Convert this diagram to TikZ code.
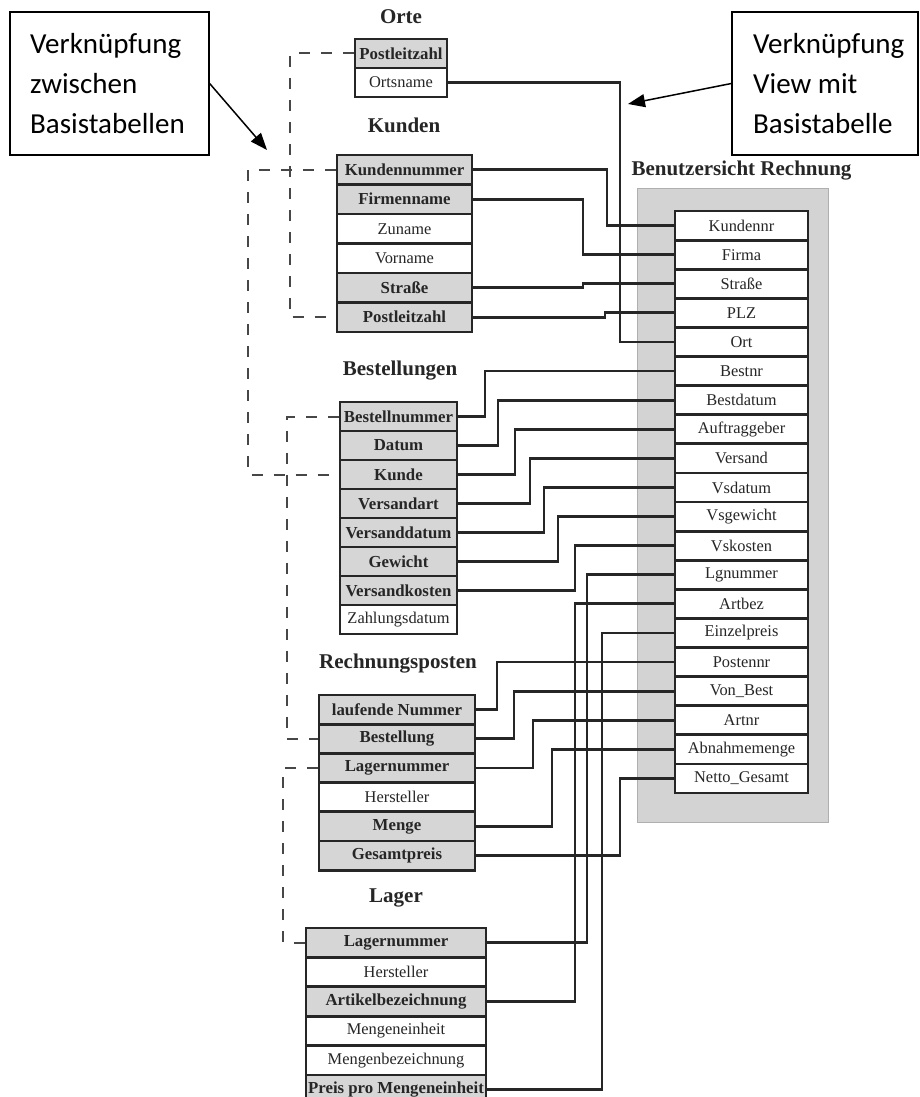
\documentclass[tikz,border=0pt]{standalone}
\usepackage{fontspec}
\setmainfont{Liberation Serif}
\newfontfamily\calloutfont{Carlito}
\usetikzlibrary{arrows.meta}
\definecolor{ink}{HTML}{262626}
\definecolor{keygray}{HTML}{D6D6D6}
\definecolor{viewgray}{HTML}{D3D3D3}
\definecolor{viewedge}{HTML}{AFAFAF}
\definecolor{dashgray}{HTML}{474747}

\begin{document}
\begin{tikzpicture}[x=1pt,y=-1pt,
  cell/.style={draw=ink, line width=2.8pt, inner sep=0pt, text=ink,
    font=\fontsize{16.4}{19}\selectfont},
  keycell/.style={cell, fill=keygray, font=\fontsize{16.8}{19}\selectfont\bfseries},
  plaincell/.style={cell, fill=white},
  orte/.style={minimum width=92pt, minimum height=29pt},
  kunden/.style={minimum width=135pt, minimum height=29.5pt},
  bestell/.style={minimum width=117pt, minimum height=29pt},
  posten/.style={minimum width=156pt, minimum height=29.2pt},
  lager/.style={minimum width=180pt, minimum height=29.4pt},
  viewcell/.style={plaincell, minimum width=133pt, minimum height=29.1pt},
  title/.style={anchor=base, text=ink, font=\fontsize{21}{25}\selectfont\bfseries},
  link/.style={draw=ink, line width=2.8pt},
  relation/.style={draw=dashgray, line width=2pt, dash pattern=on 11pt off 11pt},
  callbox/.style={draw=black, line width=1.3pt, fill=white, inner sep=0pt},
  calltext/.style={anchor=north west, inner sep=0pt, align=left, text=black,
    font=\calloutfont\fontsize{29}{40}\selectfont},
  callarrow/.style={draw=black, line width=1.5pt, -{Triangle[length=17pt,width=13pt]}}
]
\useasboundingbox (0,0) rectangle (920,1097);
\fill[white] (0,0) rectangle (920,1097);

% ---- shaded frame of the view ----
\fill[viewgray, draw=viewedge, line width=1pt] (637,188) rectangle (828,822);

% ---- lanes for the routed connectors ----
\coordinate (kA) at (607,0);
\coordinate (kB) at (583,0);
\coordinate (kD) at (605,0);
\coordinate (kE) at (620,0);
\coordinate (b1) at (485,0);
\coordinate (b2) at (498,0);
\coordinate (b3) at (515,0);
\coordinate (b4) at (530,0);
\coordinate (b5) at (544,0);
\coordinate (b6) at (558,0);
\coordinate (b7) at (575,0);
\coordinate (l1) at (587,0);
\coordinate (l2) at (575,0);
\coordinate (l3) at (602,0);
\coordinate (r1) at (497,0);
\coordinate (r2) at (514,0);
\coordinate (r3) at (533,0);
\coordinate (r4) at (552,0);
\coordinate (r5) at (620,0);
\coordinate (d1) at (290,0);
\coordinate (d2) at (248,0);
\coordinate (d3) at (287,0);
\coordinate (d4) at (283,0);

% ---- titles ----
\node[title] (tOrte) at (401,24) {Orte};
\node[title] (tKunden) at (404,132) {Kunden};
\node[title, anchor=base west] (tView) at (628,175) {Benutzersicht Rechnung};
\node[title] (tBest) at (400,375) {Bestellungen};
\node[title] (tPosten) at (398,668) {Rechnungsposten};
\node[title] (tLager) at (396,902) {Lager};

% ---- Orte ----
\node[keycell, orte] (or1) at (401,53.5) {Postleitzahl};
\node[plaincell, orte] (or2) at (401,82.5) {Ortsname};

% ---- Kunden ----
\node[keycell, kunden] (ku1) at (404.5,169.75) {Kundennummer};
\node[keycell, kunden] (ku2) at (404.5,199.25) {Firmenname};
\node[plaincell, kunden] (ku3) at (404.5,228.75) {Zuname};
\node[plaincell, kunden] (ku4) at (404.5,258.25) {Vorname};
\node[keycell, kunden] (ku5) at (404.5,287.75) {Straße};
\node[keycell, kunden] (ku6) at (404.5,317.25) {Postleitzahl};

% ---- Bestellungen ----
\node[keycell, bestell] (be1) at (398.5,416.5) {Bestellnummer};
\node[keycell, bestell] (be2) at (398.5,445.5) {Datum};
\node[keycell, bestell] (be3) at (398.5,474.5) {Kunde};
\node[keycell, bestell] (be4) at (398.5,503.5) {Versandart};
\node[keycell, bestell] (be5) at (398.5,532.5) {Versanddatum};
\node[keycell, bestell] (be6) at (398.5,561.5) {Gewicht};
\node[keycell, bestell] (be7) at (398.5,590.5) {Versandkosten};
\node[plaincell, bestell] (be8) at (398.5,619.5) {Zahlungsdatum};

% ---- Rechnungsposten ----
\node[keycell, posten] (rp1) at (397,709.6) {laufende Nummer};
\node[keycell, posten] (rp2) at (397,738.8) {Bestellung};
\node[keycell, posten] (rp3) at (397,768) {Lagernummer};
\node[plaincell, posten] (rp4) at (397,797.2) {Hersteller};
\node[keycell, posten] (rp5) at (397,826.4) {Menge};
\node[keycell, posten] (rp6) at (397,855.6) {Gesamtpreis};

% ---- Lager ----
\node[keycell, lager] (la1) at (396,942.7) {Lagernummer};
\node[plaincell, lager] (la2) at (396,972.1) {Hersteller};
\node[keycell, lager] (la3) at (396,1001.5) {Artikelbezeichnung};
\node[plaincell, lager] (la4) at (396,1030.9) {Mengeneinheit};
\node[plaincell, lager] (la5) at (396,1060.3) {Mengenbezeichnung};
\node[keycell, lager] (la6) at (396,1089.7) {Preis pro Mengeneinheit};

% ---- view Rechnung ----
\foreach \t [count=\i] in {Kundennr, Firma, Straße, PLZ, Ort, Bestnr, Bestdatum,
    Auftraggeber, Versand, Vsdatum, Vsgewicht, Vskosten, Lgnummer, Artbez,
    Einzelpreis, Postennr, Von\_Best, Artnr, Abnahmemenge, Netto\_Gesamt}
  \node[viewcell] (v\i) at (741.5,{211+29.1*(\i-0.5)}) {\t};

% ---- connectors: base tables -> view ----
\draw[link] (ku1.east) -- (ku1.east -| kA) |- (v1.west);
\draw[link] (ku2.east) -- (ku2.east -| kB) |- (v2.west);
\draw[link] (ku5.east) -- (ku5.east -| kB) |- (v3.west);
\draw[link] (ku6.east) -- (ku6.east -| kD) |- (v4.west);
\draw[link] (or2.east) -- (or2.east -| kE) |- (v5.west);
\draw[link] (be1.east) -- (be1.east -| b1) |- (v6.west);
\draw[link] (be2.east) -- (be2.east -| b2) |- (v7.west);
\draw[link] (be3.east) -- (be3.east -| b3) |- (v8.west);
\draw[link] (be4.east) -- (be4.east -| b4) |- (v9.west);
\draw[link] (be5.east) -- (be5.east -| b5) |- (v10.west);
\draw[link] (be6.east) -- (be6.east -| b6) |- (v11.west);
\draw[link] (be7.east) -- (be7.east -| b7) |- (v12.west);
\draw[link] (la1.east) -- (la1.east -| l1) |- (v13.west);
\draw[link] (la3.east) -- (la3.east -| l2) |- (v14.west);
\draw[link] (la6.east) -- (la6.east -| l3) |- (v15.west);
\draw[link] (rp1.east) -- (rp1.east -| r1) |- (v16.west);
\draw[link] (rp2.east) -- (rp2.east -| r2) |- (v17.west);
\draw[link] (rp3.east) -- (rp3.east -| r3) |- (v18.west);
\draw[link] (rp5.east) -- (rp5.east -| r4) |- (v19.west);
\draw[link] (rp6.east) -- (rp6.east -| r5) |- (v20.west);

% ---- dashed relations between base tables ----
\draw[relation] (or1.west) -- (or1.west -| d1) |- (ku6.west);
\draw[relation] (ku1.west) -- (ku1.west -| d2) |- (be3.west);
\draw[relation] (be1.west) -- (be1.west -| d3) |- (rp2.west);
\draw[relation] (rp3.west) -- (rp3.west -| d4) |- (la1.west);

% ---- callouts ----
\node[callbox, minimum width=199pt, minimum height=143pt] (cl) at (109.5,83.5) {};
\node[calltext] (clt) at (30,33) {Verknüpfung\\zwischen\\Basistabellen};
\coordinate (tipL) at (267,150);
\draw[callarrow] (cl.east) -- (tipL);

\node[callbox, minimum width=186pt, minimum height=143pt] (cr) at (825,83.5) {};
\node[calltext] (crt) at (753,33) {Verknüpfung\\View mit\\Basistabelle};
\coordinate (tipR) at (628,104);
\draw[callarrow] (cr.west) -- (tipR);
\end{tikzpicture}
\end{document}
